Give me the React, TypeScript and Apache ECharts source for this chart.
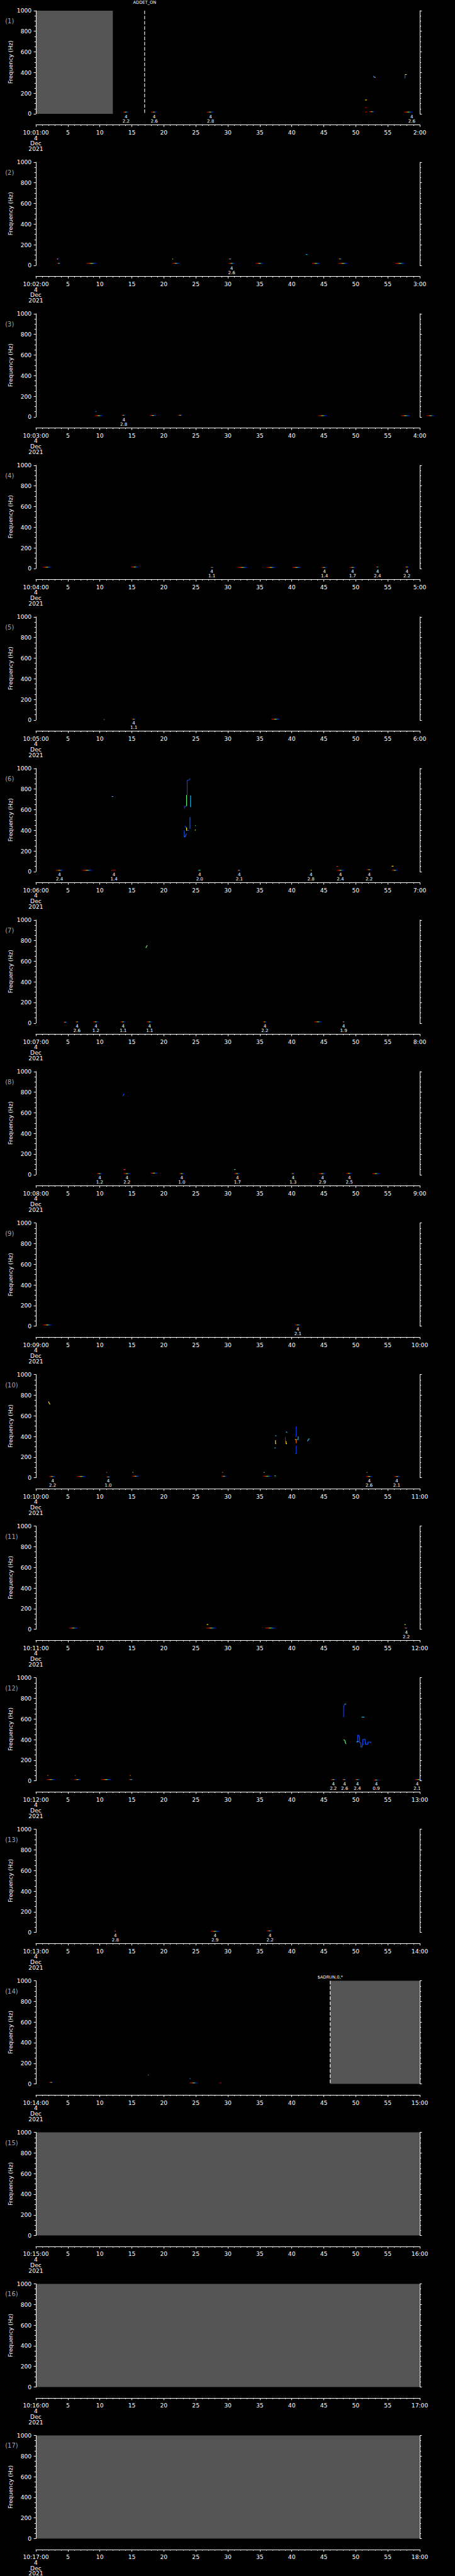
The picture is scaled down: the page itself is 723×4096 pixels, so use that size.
import React, { useEffect, useRef } from 'react';
import * as echarts from 'echarts';

// ---------------- data ----------------
// minute of 10:MM shown by each of the 17 panels
const PANEL_MINUTES = [1, 2, 3, 4, 5, 6, 7, 8, 9, 10, 11, 12, 13, 14, 15, 16, 17];
const HOUR = 10;
const DATE_LINES = ['4', 'Dec', '2021'];
const Y_LABEL = 'Frequency (Hz)';

// data gaps: [panel, startSecond, endSecond]
const GAPS: [number, number, number][] = [
  [1, 0, 12.03],
  [14, 46, 60],
  [15, 0, 60],
  [16, 0, 60],
  [17, 0, 60],
];

// instrument events: [panel, second, text]
const EVENTS: [number, number, string][] = [
  [1, 17, 'ADDET_ON'],
  [14, 46, '$ADRUN,0,*'],
];

// rainbow traces: [panel, startSecond, endSecond, frequencyHz]
const TRACES: [number, number, number, number][] = [
  [1, 13.6, 14.5, 17], [1, 18.0, 18.9, 17], [1, 26.7, 27.8, 17], [1, 52.1, 52.9, 20], [1, 57.5, 58.9, 17],
  [2, 3.3, 3.9, 19], [2, 7.9, 9.55, 19], [2, 21.27, 22.5, 19], [2, 30.1, 31.1, 19], [2, 34.35, 35.6, 19],
  [2, 43.15, 44.4, 19], [2, 47.25, 48.77, 19], [2, 56.1, 57.7, 19], [2, 3.25, 3.55, 62], [2, 21.3, 21.5, 62],
  [2, 30.1, 30.6, 62], [2, 47.3, 47.8, 62],
  [3, 9.2, 10.5, 12], [3, 13.4, 14.0, 16], [3, 17.8, 18.8, 14], [3, 22.2, 22.9, 16], [3, 44.1, 45.5, 12],
  [3, 57.05, 58.5, 12], [3, 61.1, 62.3, 12],
  [4, 1.1, 2.4, 12], [4, 14.9, 16.0, 14], [4, 27.3, 27.8, 10], [4, 31.5, 33.1, 10], [4, 36.0, 37.5, 10],
  [4, 40.1, 41.4, 10], [4, 44.6, 45.5, 10], [4, 49.0, 50.0, 10], [4, 53.2, 53.6, 14], [4, 57.7, 58.3, 14],
  [5, 15.0, 15.6, 8], [5, 36.8, 38.1, 8],
  [6, 3.1, 4.3, 12], [6, 7.2, 8.85, 12], [6, 31.5, 32.0, 12], [6, 42.9, 43.2, 12], [6, 47.0, 48.2, 12],
  [6, 51.7, 52.5, 18], [6, 55.6, 56.6, 12],
  [7, 4.3, 4.9, 10], [7, 6.2, 6.7, 12], [7, 8.9, 9.8, 12], [7, 13.2, 14.0, 12], [7, 17.3, 18.2, 12],
  [7, 35.5, 36.05, 12], [7, 43.5, 44.7, 12], [7, 47.9, 48.3, 12],
  [8, 9.5, 10.4, 10], [8, 13.7, 14.8, 10], [8, 17.9, 19.0, 15], [8, 22.4, 23.2, 10], [8, 31.0, 31.9, 10],
  [8, 39.9, 40.45, 10], [8, 44.2, 45.3, 10], [8, 48.5, 49.4, 12], [8, 52.6, 53.7, 10],
  [9, 1.1, 2.5, 12], [9, 40.5, 41.4, 12],
  [10, 2.1, 3.0, 12], [10, 6.4, 7.8, 12], [10, 11.0, 11.65, 8], [10, 15.05, 16.1, 15], [10, 29.0, 29.8, 15],
  [10, 35.5, 36.8, 15], [10, 51.6, 52.6, 12], [10, 56.0, 56.9, 12],
  [11, 5.2, 6.5, 12], [11, 26.6, 28.2, 12], [11, 35.8, 37.5, 12], [11, 57.6, 58.1, 12],
  [12, 1.7, 3.0, 12], [12, 6.0, 7.0, 12], [12, 10.2, 11.8, 12], [12, 14.6, 15.15, 12], [12, 46.1, 46.9, 12],
  [12, 47.9, 48.5, 12], [12, 49.9, 50.6, 12], [12, 52.8, 53.6, 8], [12, 59.3, 60.3, 12],
  [13, 12.25, 12.55, 12], [13, 27.3, 28.7, 10], [13, 36.05, 37.0, 15],
  [14, 2.1, 2.7, 15], [14, 24.0, 25.3, 10],
];

// single-colour specks: [panel, startSecond, endSecond, frequencyHz, colour]
const SPOTS: [number, number, number, number, string][] = [
  [1, 51.45, 51.75, 17, '#c00000'], [1, 51.45, 51.75, 60, '#c00000'], [1, 51.45, 51.75, 134, '#ffd000'],
  [2, 42.2, 42.45, 105, '#00c0ff'],
  [3, 9.3, 9.45, 52, '#00a0ff'],
  [5, 10.6, 10.75, 5, '#00a0ff'],
  [6, 11.8, 12.5, 12, '#c00000'], [6, 47.0, 47.2, 50, '#ff4000'], [6, 55.6, 55.9, 52, '#ffe000'],
  [6, 11.85, 12.1, 727, '#40a0ff'], [6, 25.37, 25.76, 12, '#20d0a0'], [6, 24.88, 24.96, 445, '#40ff80'],
  [6, 24.86, 24.98, 402, '#ffff00'],
  [8, 13.7, 14.0, 50, '#ff2060'], [8, 31.0, 31.2, 50, '#40ff80'],
  [10, 11.0, 11.15, 52, '#ff4000'], [10, 15.1, 15.25, 52, '#ffa000'], [10, 29.1, 29.25, 52, '#ff6000'],
  [10, 35.6, 35.75, 52, '#40ff80'], [10, 37.3, 37.5, 18, '#40ff80'], [10, 51.7, 51.85, 52, '#ff8000'],
  [11, 26.7, 26.95, 46, '#ffe000'], [11, 57.6, 57.8, 46, '#ffe000'],
  [12, 1.8, 1.9, 52, '#ff8000'], [12, 6.1, 6.2, 52, '#ff4000'], [12, 14.7, 14.8, 52, '#ff8000'],
  [14, 17.5, 17.6, 87, '#c08080'], [14, 24.05, 24.15, 52, '#4080ff'], [14, 28.7, 29.0, 10, '#c00000'],
];

// annotations under the traces: [panel, second, upper, lower]
const LABELS: [number, number, string, string][] = [
  [1, 14.1, '4', '2.2'], [1, 18.5, '4', '2.6'], [1, 27.3, '4', '2.8'], [1, 58.75, '4', '2.6'],
  [2, 30.6, '4', '2.6'],
  [3, 13.74, '4', '2.8'],
  [4, 27.5, '4', '1.1'], [4, 45.1, '4', '1.4'], [4, 49.5, '4', '1.7'], [4, 53.4, '4', '2.4'], [4, 58.0, '4', '2.2'],
  [5, 15.3, '4', '1.1'],
  [6, 3.7, '4', '2.4'], [6, 12.2, '4', '1.4'], [6, 25.6, '4', '2.0'], [6, 31.8, '4', '2.1'], [6, 43.0, '4', '2.8'],
  [6, 47.6, '4', '2.4'], [6, 52.1, '4', '2.2'],
  [7, 6.44, '4', '2.6'], [7, 9.39, '4', '1.2'], [7, 13.65, '4', '1.1'], [7, 17.78, '4', '1.1'], [7, 35.8, '4', '2.2'],
  [7, 48.1, '4', '1.9'],
  [8, 9.98, '4', '1.2'], [8, 14.24, '4', '2.2'], [8, 22.8, '4', '1.0'], [8, 31.5, '4', '1.7'], [8, 40.2, '4', '1.3'],
  [8, 44.8, '4', '2.9'], [8, 49.0, '4', '2.5'],
  [9, 40.95, '4', '2.1'],
  [10, 2.63, '4', '2.2'], [10, 11.3, '4', '1.0'], [10, 52.1, '4', '2.6'], [10, 56.4, '4', '2.1'],
  [11, 57.9, '4', '2.2'],
  [12, 46.5, '4', '2.2'], [12, 48.25, '4', '2.6'], [12, 50.25, '4', '2.4'], [12, 53.2, '4', '0.9'], [12, 59.6, '4', '2.1'],
  [13, 12.43, '4', '2.8'], [13, 28.0, '4', '2.9'], [13, 36.6, '4', '2.2'],
];

// stepped tone strokes: [panel, colour, [second, frequencyHz][]]
const STROKES: [number, string, [number, number][]][] = [
  [1, '#2080ff', [[52.8, 368], [52.8, 356], [53.0, 356]]],
  [1, '#ff9000', [[52.95, 353], [53.1, 353]]],
  [1, '#2060ff', [[57.6, 345], [57.7, 350], [57.7, 379]]],
  [1, '#c0ff40', [[57.7, 381], [57.95, 381]]],
  [6, '#1040ff', [[23.24, 611], [23.24, 631], [23.45, 631], [23.45, 636], [23.56, 636]]],
  [6, '#60ff80', [[23.56, 636], [23.56, 743]]],
  [6, '#1040ff', [[23.65, 743], [23.65, 882], [23.85, 888], [24.0, 890], [24.05, 898], [24.09, 905]]],
  [6, '#20c0ff', [[24.18, 736], [24.18, 628], [24.25, 628]]],
  [6, '#1050ff', [[23.2, 399], [23.2, 334], [23.3, 334], [23.3, 344], [23.45, 344], [23.45, 363], [23.6, 363]]],
  [6, '#1040ff', [[23.25, 439], [23.4, 439], [23.4, 425], [23.5, 425]]],
  [6, '#ffff20', [[23.56, 427], [23.56, 399], [23.65, 399]]],
  [6, '#1040ff', [[23.65, 399], [23.95, 399]]],
  [6, '#1060ff', [[24.09, 528], [24.09, 413], [24.15, 413]]],
  [7, '#60ff80', [[17.2, 728], [17.25, 740], [17.35, 745], [17.4, 755]]],
  [8, '#1040ff', [[13.65, 760], [13.65, 772], [13.75, 775], [13.75, 786]]],
  [10, '#ffe020', [[2.0, 740], [2.05, 725], [2.15, 720], [2.2, 710]]],
  [10, '#20c0ff', [[37.4, 407], [37.6, 407]]],
  [10, '#ffe020', [[37.45, 364], [37.45, 330], [37.55, 330]]],
  [10, '#20c0ff', [[37.3, 289], [37.5, 289]]],
  [10, '#20c0ff', [[39.1, 448], [39.2, 440], [39.3, 440]]],
  [10, '#e00000', [[39.0, 393], [39.0, 350]]],
  [10, '#ffe020', [[39.1, 355], [39.1, 330], [39.25, 330]]],
  [10, '#1040ff', [[40.7, 500], [40.7, 399], [40.55, 399]]],
  [10, '#ffe020', [[40.5, 370], [40.75, 370]]],
  [10, '#ff7000', [[40.7, 370], [40.7, 335]]],
  [10, '#1040ff', [[40.7, 312], [40.7, 234], [40.55, 234]]],
  [10, '#20c0ff', [[40.8, 370], [41.0, 370], [41.0, 401]]],
  [10, '#20c0ff', [[42.4, 355], [42.55, 362], [42.6, 376], [42.8, 376]]],
  [12, '#1040ff', [[48.1, 616], [48.1, 725], [48.2, 731], [48.2, 740]]],
  [12, '#20c0ff', [[48.2, 742], [48.5, 745]]],
  [12, '#60ff80', [[48.1, 399], [48.3, 392], [48.35, 370], [48.5, 358]]],
  [12, '#1050ff', [[50.1, 376], [50.3, 376], [50.3, 442], [50.45, 442], [50.6, 420], [50.6, 370], [50.8, 370],
    [50.8, 327], [51.0, 327], [51.0, 347], [51.1, 347], [51.1, 400], [51.45, 405], [51.5, 355], [51.9, 355],
    [51.9, 376], [52.35, 376], [52.35, 364]]],
  [12, '#20c0ff', [[50.15, 380], [50.45, 380]]],
  [12, '#20c0ff', [[50.9, 618], [51.35, 618]]],
];

// ---------------- layout / style ----------------
const W = 723;
const H = 4096;
const S = 723 / 1024;
const PITCH = 5802 / 17;
const FONT = '"DejaVu Sans", Verdana, sans-serif';
const PLOT_LEFT = 80.7;
const PLOT_W = 864;
const PLOT_TOP = 24;
const PLOT_H = 232.3;
const GAP_COLOR = '#545454';
const EVENT_RISE = [17.7, 8.2];
const TRACE_STOPS = [
  { offset: 0, color: '#a00000' },
  { offset: 0.28, color: '#ff1800' },
  { offset: 0.4, color: '#ffa000' },
  { offset: 0.48, color: '#ffff00' },
  { offset: 0.56, color: '#40ff90' },
  { offset: 0.64, color: '#00c0ff' },
  { offset: 0.76, color: '#0040ff' },
  { offset: 1, color: '#0000b0' },
];

const pad2 = (n: number) => (n < 10 ? '0' + n : String(n));

function textStyle(text: string, size: number, fill: string, align = 'center', vAlign = 'middle') {
  return {
    text,
    fill,
    fontSize: size,
    fontFamily: FONT,
    textAlign: align,
    textVerticalAlign: vAlign,
    align,
    verticalAlign: vAlign,
  };
}

function buildOption() {
  const grid: any[] = [];
  const xAxis: any[] = [];
  const yAxis: any[] = [];
  const series: any[] = [];
  const graphic: any[] = [];

  PANEL_MINUTES.forEach((mm, i) => {
    const p = i + 1;
    const top0 = i * PITCH;
    grid.push({
      left: PLOT_LEFT * S,
      top: (top0 + PLOT_TOP) * S,
      width: PLOT_W * S,
      height: PLOT_H * S,
      containLabel: false,
      outerBoundsMode: 'none',
    });
    const axisLine = { show: true, onZero: false, lineStyle: { color: '#fff', width: 1 } };
    xAxis.push({
      gridIndex: i,
      type: 'value',
      min: 0,
      max: 60,
      interval: 5,
      position: 'bottom',
      offset: 24.7 * S,
      z: 10,
      axisLine,
      axisTick: { show: true, inside: false, length: 4.7 * S, lineStyle: { color: '#fff', width: 1 } },
      minorTick: { show: true, splitNumber: 5, length: 2.5 * S, lineStyle: { color: '#fff', width: 1 } },
      splitLine: { show: false },
      minorSplitLine: { show: false },
      axisLabel: {
        show: true,
        color: '#fff',
        fontFamily: FONT,
        fontSize: 13 * S,
        lineHeight: 12.3 * S,
        margin: 10.8 * S,
        formatter: (v: number) => {
          if (v === 0) return `${HOUR}:${pad2(mm)}:00\n` + DATE_LINES.join('\n');
          if (v === 60) return `${mm + 1}:00`;
          return String(v);
        },
      },
    });
    const yBase = {
      gridIndex: i,
      type: 'value',
      min: 0,
      max: 1000,
      interval: 200,
      z: 10,
      axisLine,
      axisTick: { show: true, inside: false, length: 4.7 * S, lineStyle: { color: '#fff', width: 1 } },
      minorTick: { show: true, splitNumber: 4, length: 3 * S, lineStyle: { color: '#fff', width: 1 } },
      splitLine: { show: false },
      minorSplitLine: { show: false },
    };
    yAxis.push({
      ...yBase,
      position: 'left',
      axisLabel: {
        show: true,
        color: '#fff',
        fontFamily: FONT,
        fontSize: 13 * S,
        margin: 9.7 * S,
        formatter: (v: number) => String(v),
      },
    });
    yAxis.push({ ...yBase, position: 'right', axisLabel: { show: false } });

    const xi = i;
    const yi = 2 * i;

    const gaps = GAPS.filter((g) => g[0] === p);
    if (gaps.length) {
      series.push({
        type: 'custom',
        xAxisIndex: xi,
        yAxisIndex: yi,
        silent: true,
        z: 1,
        data: gaps.map((g) => [g[1], g[2]]),
        renderItem: (params: any, api: any) => {
          const g = gaps[params.dataIndex];
          const a = api.coord([g[1], 1000]);
          const b = api.coord([g[2], 0]);
          return {
            type: 'rect',
            shape: { x: a[0], y: a[1], width: b[0] - a[0], height: b[1] - a[1] },
            style: { fill: GAP_COLOR },
          };
        },
      });
    }

    const traces = TRACES.filter((t) => t[0] === p);
    if (traces.length) {
      series.push({
        type: 'custom',
        xAxisIndex: xi,
        yAxisIndex: yi,
        silent: true,
        z: 3,
        data: traces.map((t) => [t[1], t[3]]),
        renderItem: (params: any, api: any) => {
          const t = traces[params.dataIndex];
          const a = api.coord([t[1], t[3]]);
          const b = api.coord([t[2], t[3]]);
          const th = 1.5 * S;
          return {
            type: 'rect',
            shape: { x: a[0], y: a[1] - th / 2, width: Math.max(b[0] - a[0], 1), height: th },
            style: { fill: new echarts.graphic.LinearGradient(0, 0, 1, 0, TRACE_STOPS) },
          };
        },
      });
    }

    const spots = SPOTS.filter((t) => t[0] === p);
    if (spots.length) {
      series.push({
        type: 'custom',
        xAxisIndex: xi,
        yAxisIndex: yi,
        silent: true,
        z: 3,
        data: spots.map((t) => [t[1], t[3]]),
        renderItem: (params: any, api: any) => {
          const t = spots[params.dataIndex];
          const a = api.coord([t[1], t[3]]);
          const b = api.coord([t[2], t[3]]);
          const th = 1.6 * S;
          return {
            type: 'rect',
            shape: { x: a[0], y: a[1] - th / 2, width: Math.max(b[0] - a[0], 1.2), height: th },
            style: { fill: t[4] },
          };
        },
      });
    }

    STROKES.filter((s) => s[0] === p).forEach((s) => {
      series.push({
        type: 'line',
        xAxisIndex: xi,
        yAxisIndex: yi,
        data: s[2],
        symbol: 'none',
        showSymbol: false,
        silent: true,
        clip: false,
        z: 4,
        lineStyle: { color: s[1], width: 1.6 * S },
      });
    });

    const labels = LABELS.filter((l) => l[0] === p);
    if (labels.length) {
      series.push({
        type: 'custom',
        xAxisIndex: xi,
        yAxisIndex: yi,
        silent: true,
        z: 5,
        data: labels.map((l) => [l[1], 0]),
        renderItem: (params: any, api: any) => {
          const l = labels[params.dataIndex];
          const a = api.coord([l[1], 0]);
          return {
            type: 'group',
            children: [
              { type: 'text', x: a[0], y: a[1] + 6.9 * S, style: textStyle(l[2], 10 * S, '#fff') },
              { type: 'text', x: a[0], y: a[1] + 16.2 * S, style: textStyle(l[3], 10 * S, '#fff') },
            ],
          };
        },
      });
    }

    const events = EVENTS.map((e, k) => ({ e, k })).filter((o) => o.e[0] === p);
    if (events.length) {
      series.push({
        type: 'custom',
        xAxisIndex: xi,
        yAxisIndex: yi,
        silent: true,
        z: 6,
        data: events.map((o) => [o.e[1], 0]),
        renderItem: (params: any, api: any) => {
          const o = events[params.dataIndex];
          const top = api.coord([o.e[1], 1000]);
          const bot = api.coord([o.e[1], 0]);
          return {
            type: 'group',
            children: [
              {
                type: 'line',
                shape: { x1: top[0], y1: top[1], x2: bot[0], y2: bot[1] },
                style: { stroke: '#fff', lineWidth: 1.1, lineDash: [8 * S, 3.7 * S] },
              },
              {
                type: 'text',
                x: top[0],
                y: top[1] - EVENT_RISE[o.k] * S,
                style: textStyle(o.e[2], 9.5 * S, '#fff'),
              },
            ],
          };
        },
      });
    }

    graphic.push({
      type: 'text',
      x: 11.7 * S,
      y: (top0 + 47.3) * S,
      silent: true,
      style: textStyle(`(${p})`, 14 * S, '#a8a8a8', 'left', 'middle'),
    });
    graphic.push({
      type: 'text',
      x: 22.7 * S,
      y: (top0 + 140) * S,
      rotation: Math.PI / 2,
      silent: true,
      style: textStyle(Y_LABEL, 13 * S, '#fff'),
    });
  });

  return {
    animation: false,
    backgroundColor: '#000',
    grid,
    xAxis,
    yAxis,
    series,
    graphic,
  };
}

export default function App() {
  const ref = useRef<HTMLDivElement>(null);
  useEffect(() => {
    document.body.style.margin = '0';
    document.body.style.background = '#000';
    const chart = echarts.init(ref.current!, null, { renderer: 'svg', width: W, height: H });
    chart.setOption(buildOption() as any);
    return () => chart.dispose();
  }, []);
  return (
    <div
      ref={ref}
      style={{ position: 'absolute', left: 0, top: 0, width: W, height: H, background: '#000' }}
    />
  );
}
